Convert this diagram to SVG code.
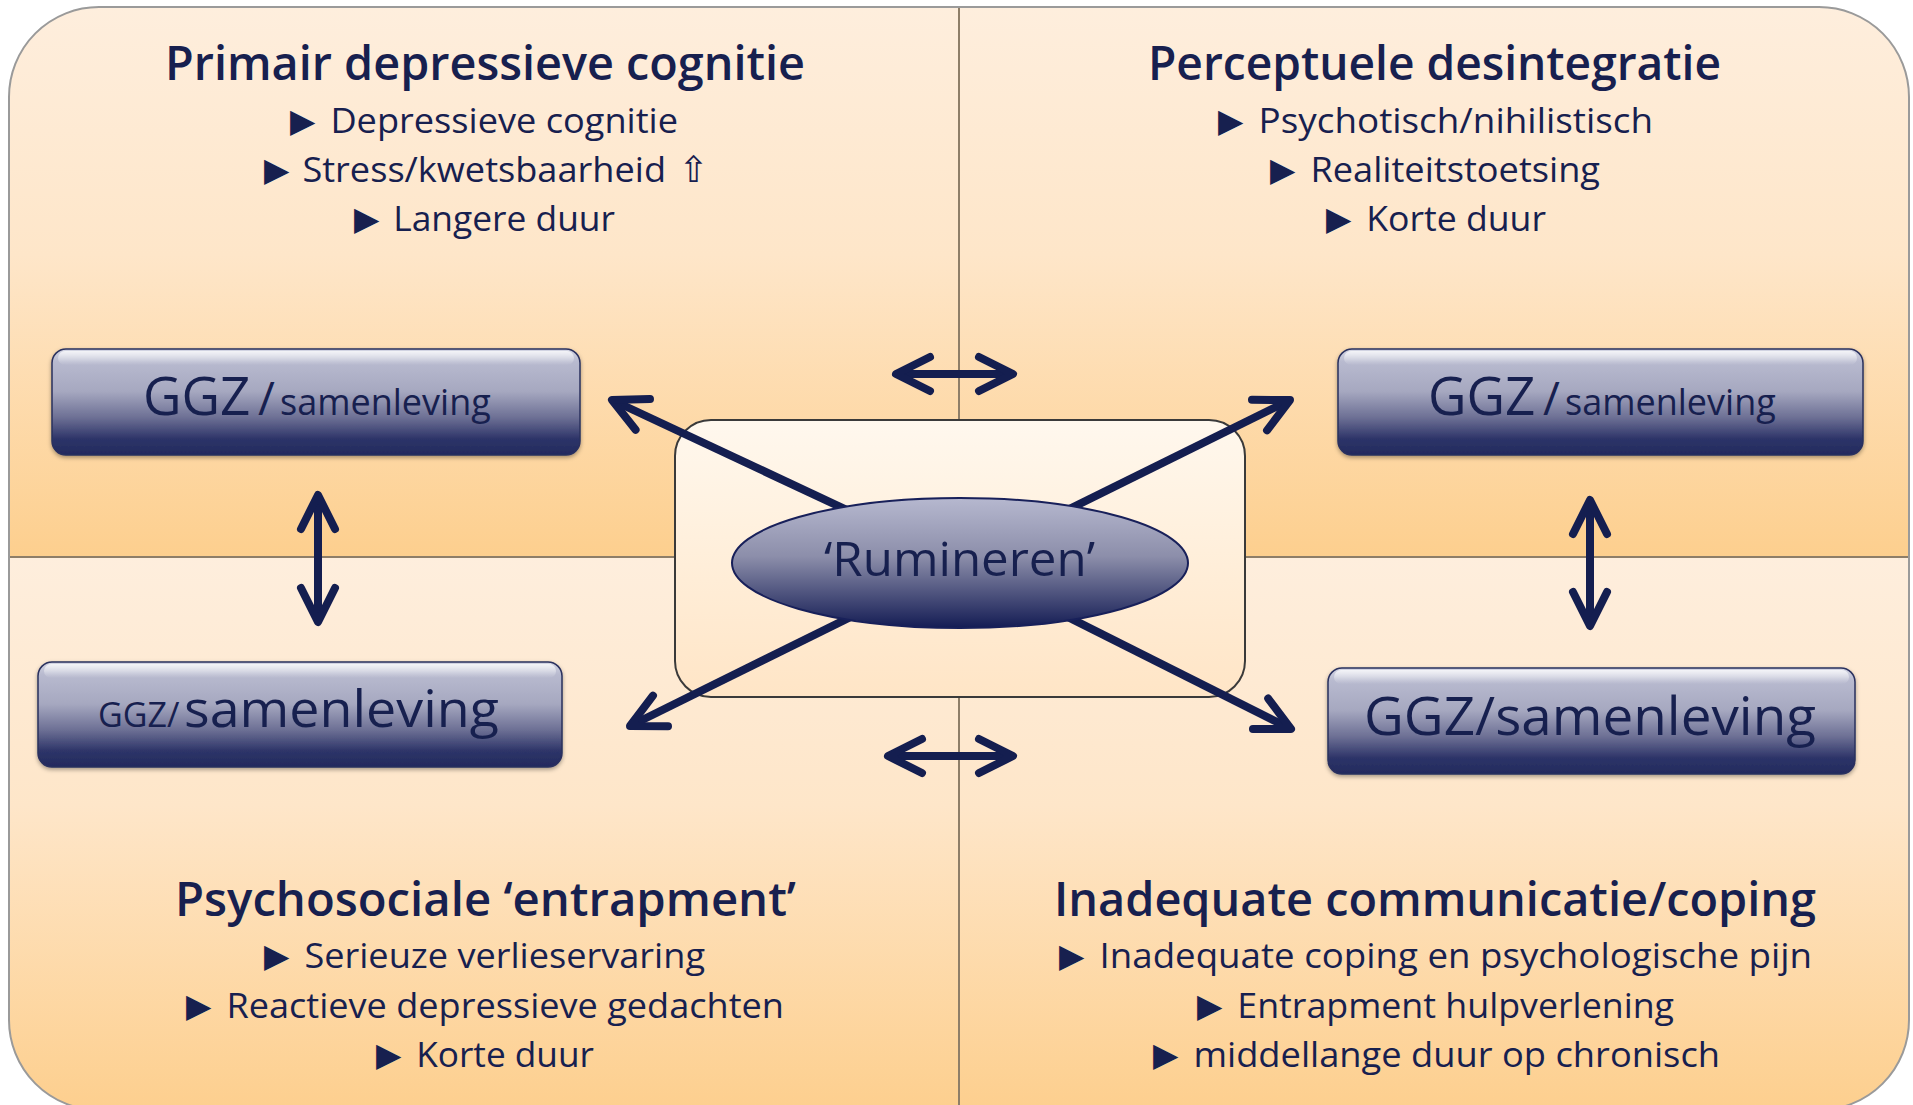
<svg xmlns="http://www.w3.org/2000/svg" width="1913" height="1105" viewBox="0 0 1913 1105">
<style>
.t{font-family:"Open Sans","Liberation Sans",sans-serif;fill:#17204F}
.title{font-size:47px;font-weight:600}
.bul{font-size:34px}
.tri{font-family:"DejaVu Sans",sans-serif;font-size:33px}
.sym{font-family:"DejaVu Sans",sans-serif;font-size:36px}
.div{stroke:#8E7E68;stroke-width:2;fill:none}
.con{stroke:#141E50;stroke-width:8;fill:none;marker-end:url(#ah)}
.dbl{marker-start:url(#ah)}
.box{fill:url(#boxg);stroke:#2A305E;stroke-width:1.5;filter:url(#sh)}
.gloss{fill:url(#glossg)}
</style>
<defs>
<linearGradient id="qg" x1="0" y1="0" x2="0" y2="1">
<stop offset="0" stop-color="#FEEEDD"/>
<stop offset="0.45" stop-color="#FEE6C9"/>
<stop offset="1" stop-color="#FDCF8E"/>
</linearGradient>
<linearGradient id="cg" x1="0" y1="0" x2="0" y2="1">
<stop offset="0" stop-color="#FFF8EE"/>
<stop offset="1" stop-color="#FFE5C6"/>
</linearGradient>
<linearGradient id="boxg" x1="0" y1="0" x2="0" y2="1">
<stop offset="0" stop-color="#D4D6E4"/>
<stop offset="0.12" stop-color="#B8BACF"/>
<stop offset="0.4" stop-color="#A6A8C0"/>
<stop offset="0.65" stop-color="#6C6F94"/>
<stop offset="0.85" stop-color="#2D3468"/>
<stop offset="1" stop-color="#232A5E"/>
</linearGradient>
<linearGradient id="glossg" x1="0" y1="0" x2="0" y2="1">
<stop offset="0" stop-color="#FFFFFF" stop-opacity="0.75"/>
<stop offset="1" stop-color="#FFFFFF" stop-opacity="0"/>
</linearGradient>
<linearGradient id="eg" x1="0" y1="0" x2="0" y2="1">
<stop offset="0" stop-color="#B6B8CF"/>
<stop offset="0.45" stop-color="#8C8EAA"/>
<stop offset="1" stop-color="#141C54"/>
</linearGradient>
<clipPath id="outer">
<rect x="9" y="7" width="1900" height="1103" rx="90" ry="90"/>
</clipPath>
<filter id="sh" x="-5%" y="-10%" width="110%" height="130%">
<feDropShadow dx="0" dy="2" stdDeviation="2" flood-color="#000" flood-opacity="0.35"/>
</filter>
<marker id="ah" markerUnits="userSpaceOnUse" markerWidth="80" markerHeight="80" viewBox="-40 -40 80 80" refX="0" refY="0" orient="auto-start-reverse" overflow="visible">
<path d="M-34,-17 L0,0 L-34,17" fill="none" stroke="#141E50" stroke-width="8" stroke-linecap="round" stroke-linejoin="round"/>
</marker>
</defs>

<g id="background">
<g clip-path="url(#outer)">
<rect x="9" y="7" width="950" height="550" fill="url(#qg)"/>
<rect x="959" y="7" width="950" height="550" fill="url(#qg)"/>
<rect x="9" y="557" width="950" height="553" fill="url(#qg)"/>
<rect x="959" y="557" width="950" height="553" fill="url(#qg)"/>
</g>
<line class="div" x1="959" y1="7" x2="959" y2="1110"/>
<line class="div" x1="9" y1="557" x2="1909" y2="557"/>
<rect x="9" y="7" width="1900" height="1103" rx="90" ry="90" fill="none" stroke="#9A9A9A" stroke-width="2"/>
</g>

<g id="q-tl">
<text class="t title" x="165" y="80" textLength="640" lengthAdjust="spacingAndGlyphs">Primair depressieve cognitie</text>
<text class="t bul" y="133"><tspan class="tri" x="290" dy="-1">▶</tspan><tspan x="321" dy="1" textLength="357" lengthAdjust="spacingAndGlyphs"> Depressieve cognitie</tspan></text>
<text class="t bul" y="182"><tspan class="tri" x="264" dy="-1">▶</tspan><tspan x="293" dy="1" textLength="373" lengthAdjust="spacingAndGlyphs"> Stress/kwetsbaarheid</tspan><tspan class="sym" x="667"> ⇧</tspan></text>
<text class="t bul" y="231"><tspan class="tri" x="354" dy="-1">▶</tspan><tspan x="384" dy="1" textLength="231" lengthAdjust="spacingAndGlyphs"> Langere duur</tspan></text>
</g>

<g id="q-tr">
<text class="t title" x="1148" y="80" textLength="573" lengthAdjust="spacingAndGlyphs">Perceptuele desintegratie</text>
<text class="t bul" y="133"><tspan class="tri" x="1218" dy="-1">▶</tspan><tspan x="1249" dy="1" textLength="404" lengthAdjust="spacingAndGlyphs"> Psychotisch/nihilistisch</tspan></text>
<text class="t bul" y="182"><tspan class="tri" x="1270" dy="-1">▶</tspan><tspan x="1301" dy="1" textLength="299" lengthAdjust="spacingAndGlyphs"> Realiteitstoetsing</tspan></text>
<text class="t bul" y="231"><tspan class="tri" x="1326" dy="-1">▶</tspan><tspan x="1357" dy="1" textLength="189" lengthAdjust="spacingAndGlyphs"> Korte duur</tspan></text>
</g>

<g id="q-bl">
<text class="t title" x="175" y="916" textLength="621" lengthAdjust="spacingAndGlyphs">Psychosociale ‘entrapment’</text>
<text class="t bul" y="968"><tspan class="tri" x="264" dy="-1">▶</tspan><tspan x="295" dy="1" textLength="410" lengthAdjust="spacingAndGlyphs"> Serieuze verlieservaring</tspan></text>
<text class="t bul" y="1018"><tspan class="tri" x="186" dy="-1">▶</tspan><tspan x="217" dy="1" textLength="567" lengthAdjust="spacingAndGlyphs"> Reactieve depressieve gedachten</tspan></text>
<text class="t bul" y="1067"><tspan class="tri" x="376" dy="-1">▶</tspan><tspan x="407" dy="1" textLength="187" lengthAdjust="spacingAndGlyphs"> Korte duur</tspan></text>
</g>

<g id="q-br">
<text class="t title" x="1054" y="916" textLength="762" lengthAdjust="spacingAndGlyphs">Inadequate communicatie/coping</text>
<text class="t bul" y="968"><tspan class="tri" x="1059" dy="-1">▶</tspan><tspan x="1090" dy="1" textLength="722" lengthAdjust="spacingAndGlyphs"> Inadequate coping en psychologische pijn</tspan></text>
<text class="t bul" y="1018"><tspan class="tri" x="1197" dy="-1">▶</tspan><tspan x="1228" dy="1" textLength="446" lengthAdjust="spacingAndGlyphs"> Entrapment hulpverlening</tspan></text>
<text class="t bul" y="1067"><tspan class="tri" x="1153" dy="-1">▶</tspan><tspan x="1184" dy="1" textLength="536" lengthAdjust="spacingAndGlyphs"> middellange duur op chronisch</tspan></text>
</g>

<g id="center-frame">
<rect x="675" y="420" width="570" height="277" rx="36" ry="36" fill="url(#cg)" stroke="#3A3A3A" stroke-width="2"/>
</g>

<g id="connectors">
<line class="con" x1="960" y1="563" x2="612" y2="400"/>
<line class="con" x1="960" y1="563" x2="1290" y2="400"/>
<line class="con" x1="960" y1="563" x2="630" y2="726"/>
<line class="con" x1="960" y1="563" x2="1291" y2="729"/>
<line class="con dbl" x1="896" y1="374" x2="1013" y2="374"/>
<line class="con dbl" x1="888" y1="756" x2="1013" y2="756"/>
<line class="con dbl" x1="318" y1="495" x2="318" y2="622"/>
<line class="con dbl" x1="1590" y1="500" x2="1590" y2="626"/>
</g>

<g id="rumineren">
<ellipse cx="960" cy="563" rx="228" ry="65" fill="url(#eg)" stroke="#18205A" stroke-width="2"/>
<text class="t" x="824" y="576" font-size="48" textLength="271" lengthAdjust="spacingAndGlyphs">‘Rumineren’</text>
</g>

<g id="box-tl">
<rect class="box" x="52" y="349" width="528" height="106" rx="14" ry="14"/>
<rect class="gloss" x="58" y="351" width="516" height="14" rx="7" ry="7"/>
<text class="t" y="415"><tspan x="143" font-size="53">GGZ</tspan><tspan x="258" font-size="46">/</tspan><tspan x="280" font-size="36">samenleving</tspan></text>
</g>

<g id="box-tr">
<rect class="box" x="1338" y="349" width="525" height="106" rx="14" ry="14"/>
<rect class="gloss" x="1344" y="351" width="513" height="14" rx="7" ry="7"/>
<text class="t" y="415"><tspan x="1428" font-size="53">GGZ</tspan><tspan x="1543" font-size="46">/</tspan><tspan x="1565" font-size="36">samenleving</tspan></text>
</g>

<g id="box-bl">
<rect class="box" x="38" y="662" width="524" height="105" rx="14" ry="14"/>
<rect class="gloss" x="44" y="664" width="512" height="14" rx="7" ry="7"/>
<text class="t" y="727"><tspan x="98" font-size="34">GGZ/</tspan><tspan x="184" font-size="52" textLength="315" lengthAdjust="spacingAndGlyphs">samenleving</tspan></text>
</g>

<g id="box-br">
<rect class="box" x="1328" y="668" width="527" height="106" rx="14" ry="14"/>
<rect class="gloss" x="1334" y="670" width="515" height="14" rx="7" ry="7"/>
<text class="t" x="1364" y="735" font-size="53" textLength="452" lengthAdjust="spacingAndGlyphs">GGZ/samenleving</text>
</g>
</svg>
